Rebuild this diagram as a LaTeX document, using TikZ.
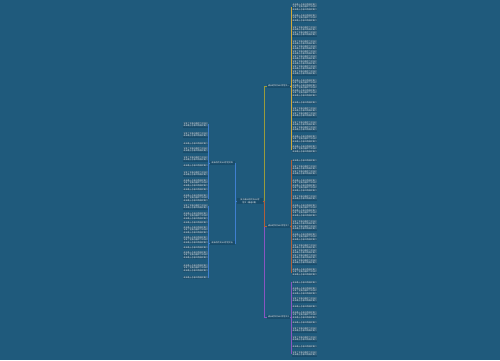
\documentclass[tikz,border=0pt]{standalone}
\usepackage{fontspec}
\newfontfamily\cjk{Noto Sans CJK SC}
\usetikzlibrary{positioning}

\definecolor{bgblue}{HTML}{1F5A7C}
\definecolor{boxblue}{HTML}{194C6B}
\definecolor{lineblue}{HTML}{3F7FD0}
\definecolor{lineolive}{HTML}{9A9A3C}
\definecolor{lineyellow}{HTML}{D0A838}
\definecolor{linebrown}{HTML}{B0603A}
\definecolor{linepurple}{HTML}{8A55C0}

% n lines of leaf text
\newcommand\leaflines[1]{\ifodd\numexpr#1\relax 成长路上总有风雨相伴我们\else 学会了坚强也懂得了珍惜时\fi
  \ifnum\numexpr#1\relax>1 \\\leaflines{\numexpr#1-1\relax}\fi}

\begin{document}
\begin{tikzpicture}[x=1pt,y=-1pt]
      \tikzstyle{leaf}=[fill=boxblue,text=white,font=\cjk\fontsize{2}{2.5}\selectfont,text width=24pt,align=left,inner xsep=0.5pt,inner ysep=0.5pt,anchor=north west]
      \tikzstyle{branch}=[fill=boxblue,text=white,font=\cjk\fontsize{2}{2.5}\selectfont,inner sep=0.6pt,minimum width=23pt]
      \tikzstyle{link}=[line width=0.8pt]
      \fill[bgblue] (0,0) rectangle (500,360);
      % centre and branches
      \node[branch,text width=24pt,align=center] (root) at (250,201) {关于成长的作文800字\\范文（精选5篇）};
      \node[branch,anchor=east,minimum width=25pt] (b_4) at (235,163) {成长的作文800字范文四};
      \node[branch,anchor=east,minimum width=25pt] (b_5) at (235,243) {成长的作文800字范文五};
      \node[branch,anchor=west] (b_1) at (267,86) {成长的作文800字范文一};
      \node[branch,anchor=west] (b_2) at (267,226) {成长的作文800字范文二};
      \node[branch,anchor=west] (b_3) at (267,317) {成长的作文800字范文三};
      \draw[link,lineblue] (root.west) -- ++(-1.5,0) |- (b_4.east);
      \draw[link,lineblue] (root.west) -- ++(-1.5,0) |- (b_5.east);
      \draw[link,lineolive] (root.east) -- ++(2,0) |- (b_1.west);
      \draw[link,linepurple] (root.east) -- ++(2,0) |- (b_3.west);
      \draw[link,linebrown] (root.east) -- ++(2,0) |- (b_2.west);
      % left leaves
      \foreach \t/\n [count=\i] in {122/2,132/2,142/1,147/2,156/2,164/1,171/2,179/3,188/1,194/3} {
        \node[leaf] (l_\i) at (183,\t) {\leaflines{\n}};
        \draw[link,lineblue] (b_4.west) -- ++(-1,0) |- (l_\i.east);
      }
      \foreach \t/\n [count=\i] in {204/2,212/3,221/1,226/3,236/3,246/1,251/3,264/3,276/1} {
        \node[leaf] (m_\i) at (183,\t) {\leaflines{\n}};
        \draw[link,lineblue] (b_5.west) -- ++(-1,0) |- (m_\i.east);
      }
      % right leaves
      \foreach \t/\n [count=\i] in {3/3,14/3,26/4,40/14,79/7,101/1,107/4,121/4,135/3,145/3} {
        \node[leaf] (r_\i) at (292,\t) {\leaflines{\n}};
        \draw[link,lineyellow] (b_1.east) -- ++(1,0) |- (r_\i.west);
      }
      \foreach \t/\n [count=\i] in {159/1,165/4,179/5,195/2,204/5,220/4,233/3,244/8,268/3} {
        \node[leaf] (s_\i) at (292,\t) {\leaflines{\n}};
        \draw[link,linebrown] (b_2.east) -- ++(1,0) |- (s_\i.west);
      }
      \foreach \t/\n [count=\i] in {281/1,287/3,297/2,305/1,311/3,321/1,327/2,336/2,345/1,351/2} {
        \node[leaf] (t_\i) at (292,\t) {\leaflines{\n}};
        \draw[link,linepurple] (b_3.east) -- ++(1,0) |- (t_\i.west);
      }
\end{tikzpicture}
\end{document}
